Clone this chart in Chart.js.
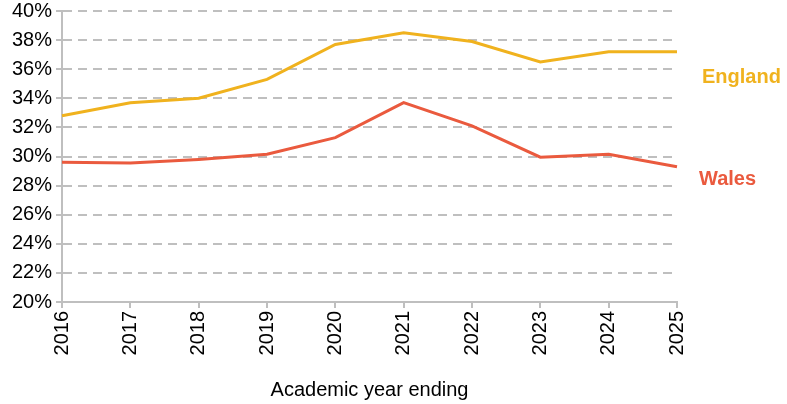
<!DOCTYPE html>
<html>
<head>
<meta charset="utf-8">
<script src="https://cdn.jsdelivr.net/npm/chart.js@4/dist/chart.umd.min.js"></script>
<style>
  html, body { margin: 0; padding: 0; background: #fff; }
  #wrap { width: 787px; height: 404px; }
</style>
</head>
<body>
<div id="wrap"><canvas id="chart" width="787" height="404"></canvas></div>
<script>
const years = ["2016", "2017", "2018", "2019", "2020", "2021", "2022", "2023", "2024", "2025"];
const england = [32.8, 33.7, 34.0, 35.3, 37.7, 38.5, 37.9, 36.5, 37.2, 37.2];
const wales = [29.6, 29.55, 29.8, 30.15, 31.3, 33.7, 32.1, 29.95, 30.15, 29.3];
const yTicks = [20, 22, 24, 26, 28, 30, 32, 34, 36, 38, 40];

const englandColor = "#F0B21E";
const walesColor = "#EA5A3E";
const gridColor = "#BFBFBF";
const fontFamily = "'Liberation Sans', Arial, sans-serif";

// line-end labels at the right of the plot
const endLabels = {
  id: "endLabels",
  afterDatasetsDraw(chart) {
    const { ctx, scales } = chart;
    const x = scales.x.right + 25;
    ctx.save();
    ctx.font = "bold 20px " + fontFamily;
    ctx.textBaseline = "middle";
    ctx.fillStyle = englandColor;
    ctx.fillText("England", x, scales.y.getPixelForValue(35.45));
    ctx.fillStyle = walesColor;
    ctx.fillText("Wales", x - 3, scales.y.getPixelForValue(28.45));
    ctx.restore();
  },
};

const ctx = document.getElementById("chart").getContext("2d");

new Chart(ctx, {
  type: "line",
  data: {
    labels: years,
    datasets: [
      {
        label: "England",
        data: england,
        borderColor: englandColor,
        borderWidth: 3,
        pointRadius: 0,
        tension: 0,
        fill: false,
      },
      {
        label: "Wales",
        data: wales,
        borderColor: walesColor,
        borderWidth: 3,
        pointRadius: 0,
        tension: 0,
        fill: false,
      },
    ],
  },
  options: {
    responsive: false,
    animation: false,
    layout: {
      padding: { top: 0, right: 110, left: 0, bottom: 0 },
    },
    plugins: {
      legend: { display: false },
      tooltip: { enabled: false },
    },
    scales: {
      x: {
        afterFit: (axis) => {
          axis.height = 102;
        },
        grid: {
          drawOnChartArea: false,
          drawTicks: true,
          tickLength: 6,
          color: gridColor,
          lineWidth: 2,
        },
        border: { color: gridColor, width: 2 },
        ticks: {
          color: "#000",
          font: { family: fontFamily, size: 20 },
          minRotation: 90,
          maxRotation: 90,
          padding: 3,
        },
        title: {
          display: true,
          text: "Academic year ending",
          color: "#000",
          font: { family: fontFamily, size: 20 },
          padding: { top: 14, bottom: 2 },
        },
      },
      y: {
        min: 20,
        max: 40,
        afterBuildTicks: (axis) => {
          axis.ticks = yTicks.map((v) => ({ value: v }));
        },
        afterFit: (axis) => {
          axis.width = 62;
          axis.paddingTop = 11;
          axis.paddingBottom = 0;
        },
        grid: {
          color: gridColor,
          lineWidth: 2,
          tickLength: 6,
        },
        border: { display: true, color: gridColor, width: 2, dash: [9, 6] },
        ticks: {
          color: "#000",
          font: { family: fontFamily, size: 20 },
          padding: 4,
          callback: (v) => v + "%",
        },
      },
    },
  },
  plugins: [endLabels],
});
</script>
</body>
</html>
